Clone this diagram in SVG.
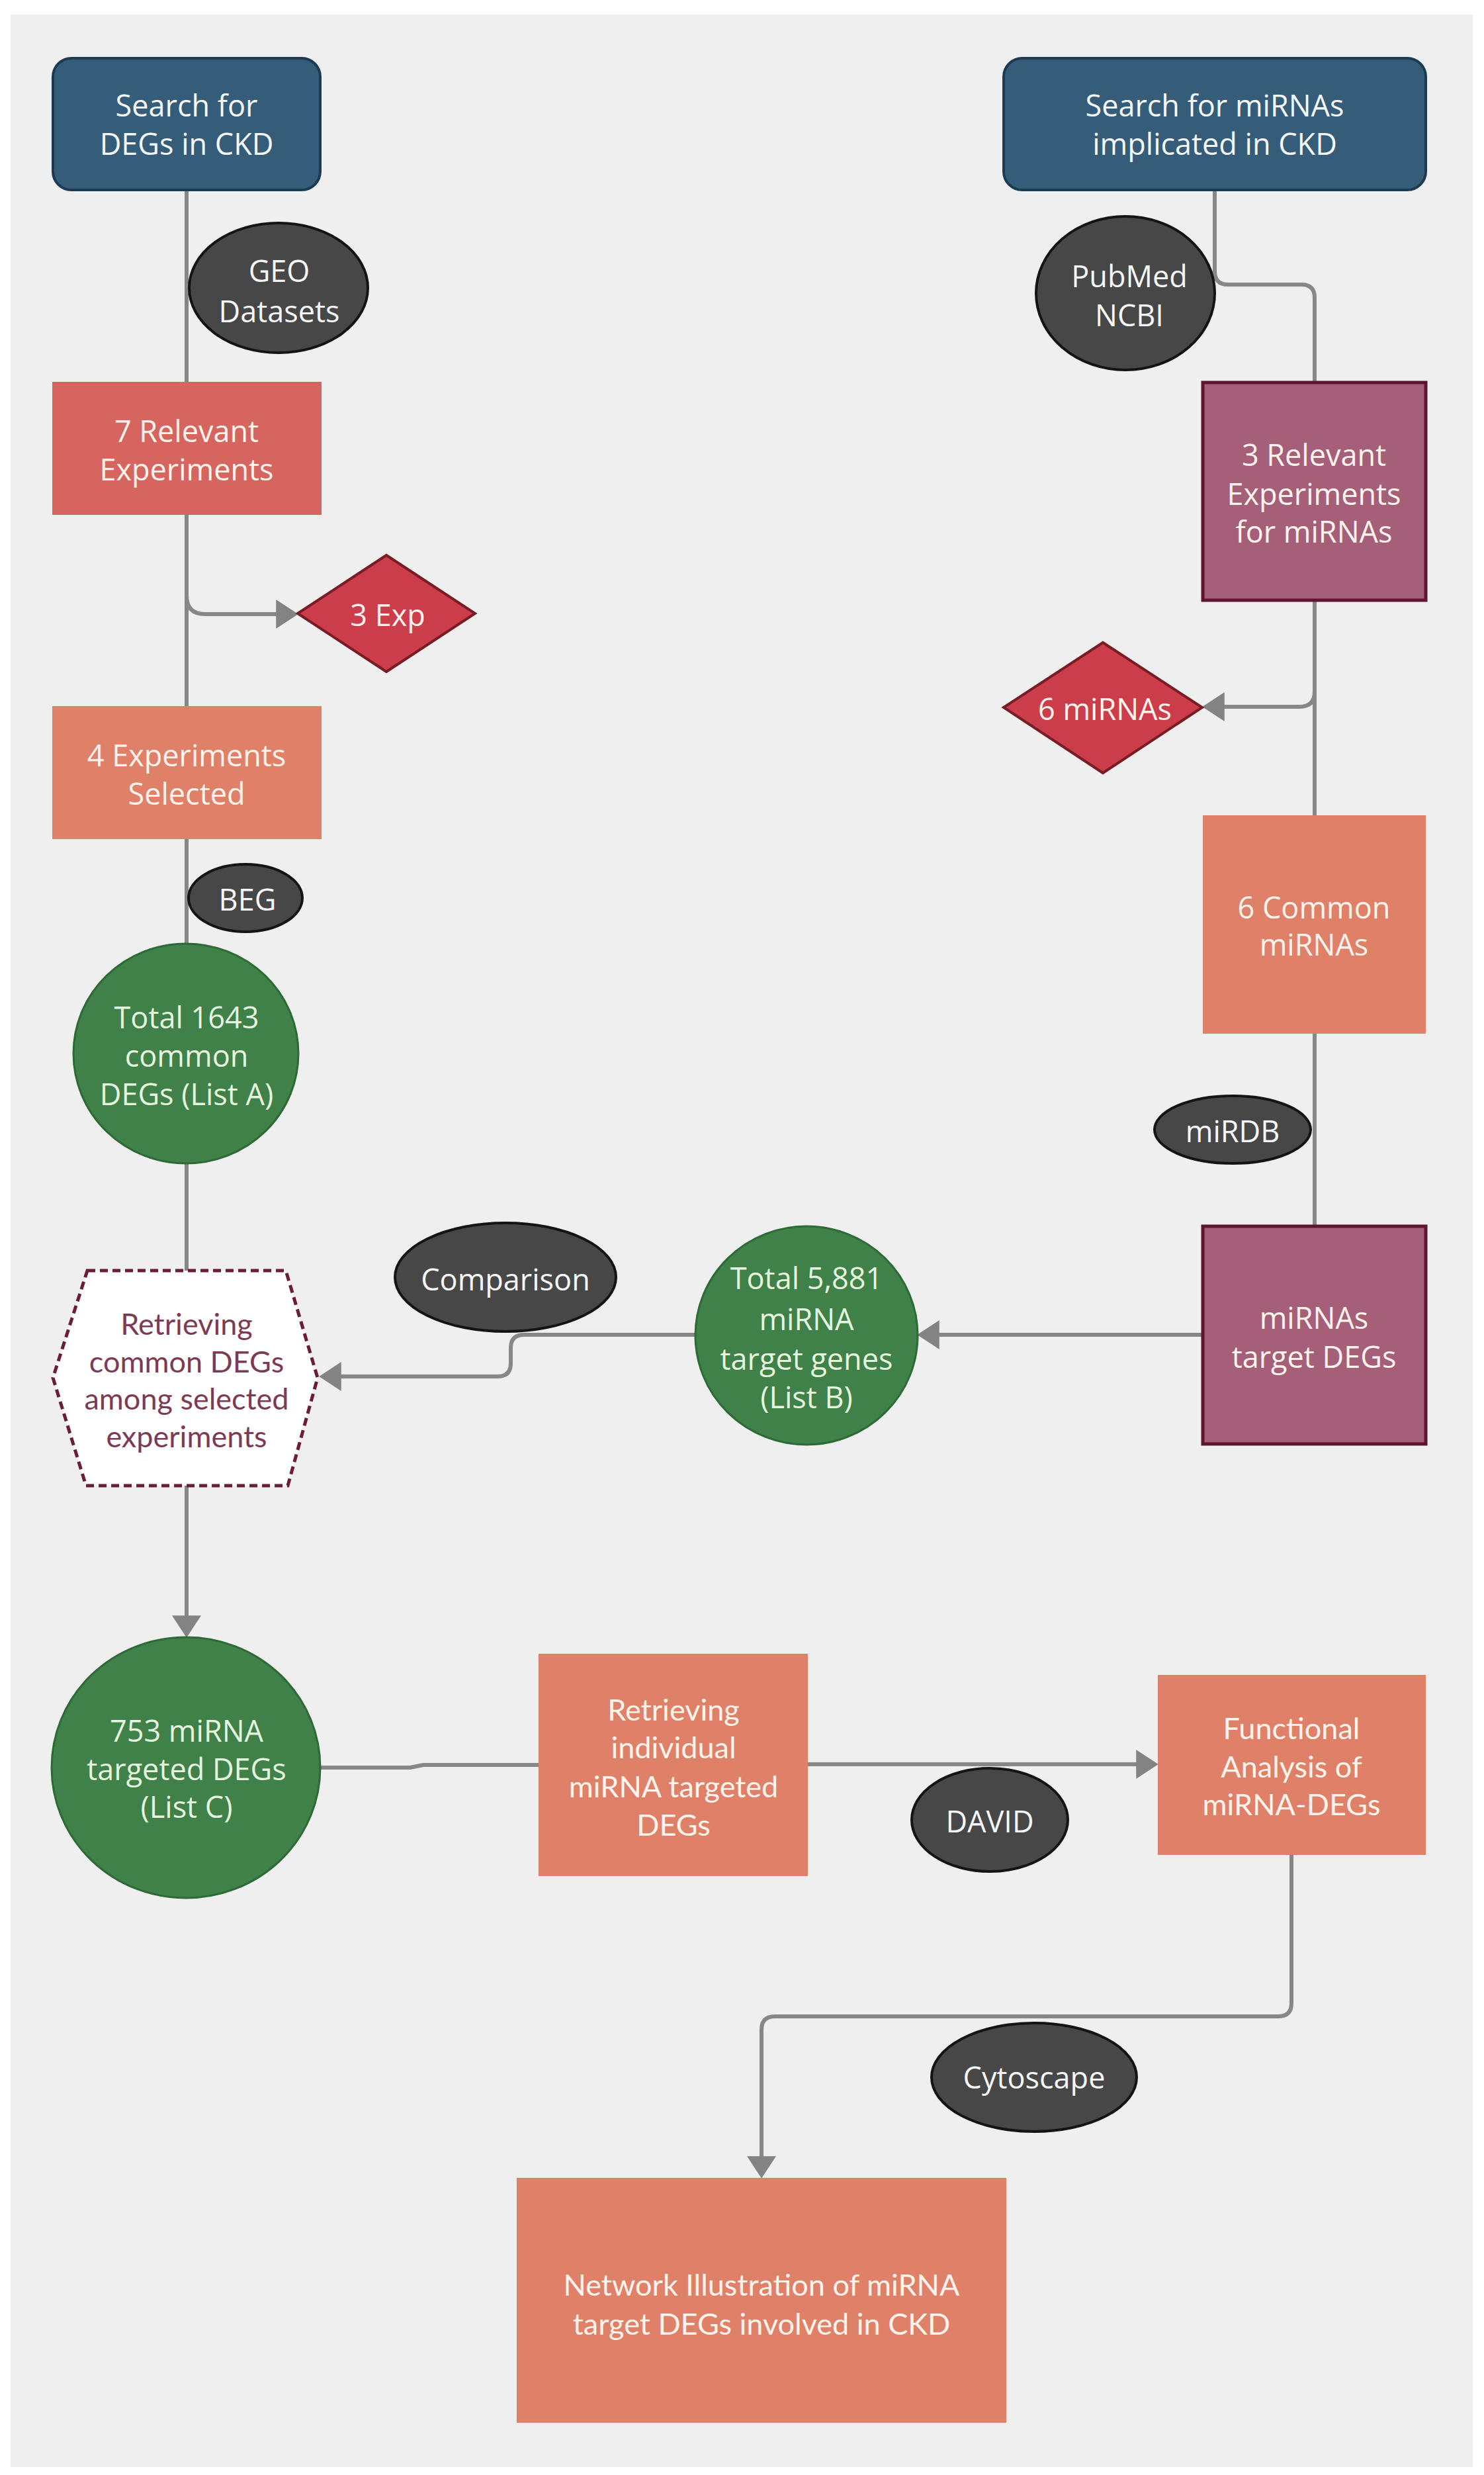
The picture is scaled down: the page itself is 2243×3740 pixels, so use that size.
<svg xmlns="http://www.w3.org/2000/svg" width="2243" height="3740" viewBox="0 0 2243 3740">
<defs>
<style>
.bg{fill:#efefef}
.teal{fill:#355d79;stroke:#1c3a52;stroke-width:4}
.coral{fill:#d6645f}
.salmon{fill:#df8168}
.mauve{fill:#a55f78;stroke:#5e1530;stroke-width:5}
.dia{fill:#cc3d4b;stroke:#7a1c24;stroke-width:4}
.green{fill:#3f8148;stroke:#2d6a35;stroke-width:3}
.dark{fill:#474747;stroke:#141414;stroke-width:4}
.hex{fill:#ffffff;stroke:#6b1c3b;stroke-width:5;stroke-dasharray:12 7}
.con{fill:none;stroke:#878787;stroke-width:6;stroke-linejoin:round}
.t{font-family:"Open Sans","Noto Sans",sans-serif;font-size:45px;text-anchor:middle;dominant-baseline:central;fill:#f4f6f8}
.l{font-family:Lato,"Open Sans",sans-serif;font-size:45px;text-anchor:middle;dominant-baseline:central;fill:#fff3ec}
.gt{fill:#e6f5df}
.st{fill:#fff3ec}
.ht{fill:#7d3a55}
</style>
<marker id="arr" markerUnits="userSpaceOnUse" markerWidth="34" markerHeight="44" viewBox="0 0 32 42" refX="16" refY="21" orient="auto">
<path d="M0,0 L32,21 L0,42 z" fill="#838383"/>
</marker>
</defs>
<rect x="0" y="0" width="2243" height="3740" fill="#ffffff"/>
<rect class="bg" x="16" y="22" width="2210" height="3706"/>

<g id="connectors">
<path class="con" d="M282 287 V577"/>
<path class="con" d="M282 778 V1067"/>
<path class="con" d="M282 900 Q282 928 310 928 H434" marker-end="url(#arr)"/>
<path class="con" d="M282 1268 V1426"/>
<path class="con" d="M282 1758 V1920"/>
<path class="con" d="M282 2245 V2458" marker-end="url(#arr)"/>
<path class="con" d="M1836 287 V410 Q1836 430 1856 430 H1967 Q1987 430 1987 450 V577"/>
<path class="con" d="M1987 907 V1232"/>
<path class="con" d="M1987 1045 Q1987 1068 1964 1068 H1834" marker-end="url(#arr)"/>
<path class="con" d="M1987 1562 V1851"/>
<path class="con" d="M1816 2017 H1403" marker-end="url(#arr)"/>
<path class="con" d="M1051 2017 H792 Q772 2017 772 2037 V2060 Q772 2080 752 2080 H499" marker-end="url(#arr)"/>
<path class="con" d="M484 2671 H620 L640 2667 H814"/>
<path class="con" d="M1221 2666 H1734" marker-end="url(#arr)"/>
<path class="con" d="M1952 2803 V3027 Q1952 3047 1932 3047 H1171 Q1151 3047 1151 3067 V3275" marker-end="url(#arr)"/>
</g>

<g id="search-degs">
<rect class="teal" x="80" y="88" width="404" height="199" rx="28"/>
<text class="t" x="282" y="158">Search for</text>
<text class="t" x="282" y="216">DEGs in CKD</text>
</g>
<g id="search-mirnas">
<rect class="teal" x="1517" y="88" width="638" height="199" rx="28"/>
<text class="t" x="1836" y="158">Search for miRNAs</text>
<text class="t" x="1836" y="216">implicated in CKD</text>
</g>
<g id="geo">
<ellipse class="dark" cx="421" cy="435" rx="135" ry="98"/>
<text class="t" x="422" y="408">GEO</text>
<text class="t" x="422" y="469">Datasets</text>
</g>
<g id="pubmed">
<ellipse class="dark" cx="1701" cy="443" rx="135" ry="116"/>
<text class="t" x="1707" y="416">PubMed</text>
<text class="t" x="1707" y="475">NCBI</text>
</g>
<g id="relevant7">
<rect class="coral" x="79" y="577" width="407" height="201"/>
<text class="t st" x="282" y="650">7 Relevant</text>
<text class="t st" x="282" y="708">Experiments</text>
</g>
<g id="exp3">
<polygon class="dia" points="450,927 584,839 718,927 584,1015"/>
<text class="t st" x="586" y="928">3 Exp</text>
</g>
<g id="relevant3">
<rect class="mauve" x="1818" y="578" width="337" height="329"/>
<text class="t st" x="1986" y="686">3 Relevant</text>
<text class="t st" x="1986" y="745">Experiments</text>
<text class="t st" x="1986" y="802">for miRNAs</text>
</g>
<g id="mirnas6">
<polygon class="dia" points="1517,1069 1667,971 1817,1069 1667,1168"/>
<text class="t st" x="1670" y="1070">6 miRNAs</text>
</g>
<g id="selected4">
<rect class="salmon" x="79" y="1067" width="407" height="201"/>
<text class="t st" x="282" y="1140">4 Experiments</text>
<text class="t st" x="282" y="1198">Selected</text>
</g>
<g id="beg">
<ellipse class="dark" cx="371" cy="1357" rx="86" ry="51"/>
<text class="t" x="374" y="1358">BEG</text>
</g>
<g id="common6">
<rect class="salmon" x="1818" y="1232" width="337" height="330"/>
<text class="t st" x="1986" y="1370">6 Common</text>
<text class="t st" x="1986" y="1426">miRNAs</text>
</g>
<g id="lista">
<ellipse class="green" cx="281" cy="1592" rx="170" ry="166"/>
<text class="t gt" x="282" y="1536">Total 1643</text>
<text class="t gt" x="282" y="1594">common</text>
<text class="t gt" x="282" y="1652">DEGs (List A)</text>
</g>
<g id="mirdb">
<ellipse class="dark" cx="1863" cy="1707" rx="118" ry="51"/>
<text class="t" x="1863" y="1708">miRDB</text>
</g>
<g id="comparison">
<ellipse class="dark" cx="764" cy="1930" rx="167" ry="82"/>
<text class="t" x="764" y="1932">Comparison</text>
</g>
<g id="mirna-targets">
<rect class="mauve" x="1818" y="1853" width="337" height="329"/>
<text class="t st" x="1986" y="1990">miRNAs</text>
<text class="t st" x="1986" y="2049">target DEGs</text>
</g>
<g id="listb">
<ellipse class="green" cx="1219" cy="2018" rx="168" ry="165"/>
<text class="t gt" x="1219" y="1930">Total 5,881</text>
<text class="t gt" x="1219" y="1992">miRNA</text>
<text class="t gt" x="1219" y="2052">target genes</text>
<text class="t gt" x="1219" y="2110">(List B)</text>
</g>
<g id="retrieving-common">
<polygon class="hex" points="132,1920 432,1920 480,2082 435,2245 130,2245 80,2082"/>
<text class="l ht" x="282" y="2000">Retrieving</text>
<text class="l ht" x="282" y="2057">common DEGs</text>
<text class="l ht" x="282" y="2113">among selected</text>
<text class="l ht" x="282" y="2170">experiments</text>
</g>
<g id="listc">
<ellipse class="green" cx="281" cy="2671" rx="203" ry="197"/>
<text class="t gt" x="282" y="2614">753 miRNA</text>
<text class="t gt" x="282" y="2672">targeted DEGs</text>
<text class="t gt" x="282" y="2729">(List C)</text>
</g>
<g id="retrieving-individual">
<rect class="salmon" x="814" y="2499" width="407" height="336"/>
<text class="l" x="1018" y="2583">Retrieving</text>
<text class="l" x="1018" y="2640">individual</text>
<text class="l" x="1018" y="2699">miRNA targeted</text>
<text class="l" x="1018" y="2757">DEGs</text>
</g>
<g id="david">
<ellipse class="dark" cx="1496" cy="2750" rx="118" ry="78"/>
<text class="t" x="1496" y="2751">DAVID</text>
</g>
<g id="functional">
<rect class="salmon" x="1750" y="2531" width="405" height="272"/>
<text class="l" x="1952" y="2611">Functional</text>
<text class="l" x="1952" y="2669">Analysis of</text>
<text class="l" x="1952" y="2726">miRNA-DEGs</text>
</g>
<g id="cytoscape">
<ellipse class="dark" cx="1563" cy="3139" rx="155" ry="82"/>
<text class="t" x="1563" y="3138">Cytoscape</text>
</g>
<g id="network">
<rect class="salmon" x="781" y="3291" width="740" height="370"/>
<text class="l" x="1151" y="3452">Network Illustration of miRNA</text>
<text class="l" x="1151" y="3511">target DEGs involved in CKD</text>
</g>
</svg>
